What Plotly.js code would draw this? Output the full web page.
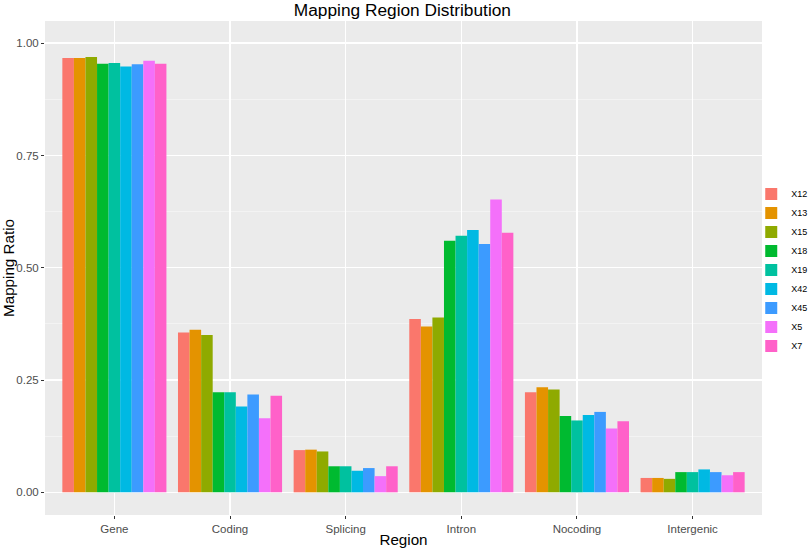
<!DOCTYPE html>
<html>
<head>
<meta charset="utf-8">
<script src="https://cdn.plot.ly/plotly-3.0.1.min.js"></script>
<style>
  html, body { margin: 0; padding: 0; background: #fff; }
  #chart { width: 809px; height: 548px; }
</style>
</head>
<body>
<div id="chart"></div>
<script>
// regions on the x axis
const regions = ['Gene', 'Coding', 'Splicing', 'Intron', 'Nocoding', 'Intergenic'];

// one array per sample, values in region order
const samples = ['X12', 'X13', 'X15', 'X18', 'X19', 'X42', 'X45', 'X5', 'X7'];
const x12 = [0.967, 0.356, 0.094, 0.386, 0.223, 0.032];
const x13 = [0.967, 0.362, 0.095, 0.369, 0.234, 0.032];
const x15 = [0.969, 0.350, 0.091, 0.389, 0.229, 0.030];
const x18 = [0.954, 0.223, 0.058, 0.560, 0.170, 0.045];
const x19 = [0.956, 0.223, 0.058, 0.571, 0.160, 0.045];
const x42 = [0.948, 0.191, 0.048, 0.584, 0.172, 0.051];
const x45 = [0.953, 0.218, 0.054, 0.553, 0.179, 0.045];
const x5  = [0.961, 0.165, 0.036, 0.652, 0.142, 0.038];
const x7  = [0.954, 0.215, 0.058, 0.578, 0.158, 0.045];
const sampleValues = [x12, x13, x15, x18, x19, x42, x45, x5, x7];

const colors = ['#FA776C', '#E49300', '#8FAA00', '#00BA30', '#00C19F', '#00B9E3', '#3C9BFF', '#F470FA', '#FF61C9'];

const font = 'Liberation Sans, Arial, sans-serif';

let traces = samples.map(function (name, i) {
  return {
    type: 'bar',
    name: name,
    x: regions,
    y: sampleValues[i],
    marker: { color: colors[i], line: { width: 0 } },
    hoverinfo: 'x+y+name'
  };
});

let layout = {
  width: 809,
  height: 548,
  margin: { l: 45, r: 47, t: 21, b: 33, autoexpand: false },
  paper_bgcolor: '#ffffff',
  plot_bgcolor: '#EBEBEB',
  barmode: 'group',
  bargap: 0.1,
  bargroupgap: 0,
  font: { family: font, color: '#000' },
  title: {
    text: 'Mapping Region Distribution',
    font: { size: 17.3, family: font, color: '#000' },
    x: 0.4985, xanchor: 'center', xref: 'paper',
    y: 0.981, yanchor: 'middle', yref: 'container'
  },
  xaxis: {
    type: 'category',
    categoryorder: 'array',
    categoryarray: regions,
    range: [-0.6, 5.6],
    showgrid: true,
    gridcolor: '#ffffff',
    gridwidth: 1.4,
    zeroline: false,
    showline: false,
    ticks: 'outside',
    ticklen: 3,
    tickwidth: 1,
    tickcolor: '#333333',
    tickfont: { size: 11.5, color: '#4D4D4D', family: font },
    title: { text: 'Region', font: { size: 15.2, color: '#000', family: font }, standoff: 3 },
    fixedrange: true
  },
  yaxis: {
    range: [-0.0505, 1.0494],
    tickvals: [0, 0.25, 0.5, 0.75, 1],
    ticktext: ['0.00', '0.25', '0.50', '0.75', '1.00'],
    showgrid: true,
    gridcolor: '#ffffff',
    gridwidth: 1.4,
    minor: { tickvals: [0.125, 0.375, 0.625, 0.875], showgrid: true, gridcolor: '#F7F7F7', gridwidth: 0.7, ticks: '' },
    zeroline: false,
    showline: false,
    ticks: 'outside',
    ticklen: 3,
    tickwidth: 1,
    tickcolor: '#333333',
    tickfont: { size: 11.5, color: '#4D4D4D', family: font },
    title: { text: 'Mapping Ratio', font: { size: 15.2, color: '#000', family: font }, standoff: 4 },
    fixedrange: true
  },
  legend: {
    x: 0.985, xanchor: 'left',
    y: 0.496, yanchor: 'middle',
    font: { size: 9, color: '#000', family: font },
    bgcolor: 'rgba(0,0,0,0)',
    tracegroupgap: 0,
    itemwidth: 30
  },
  showlegend: true
};

let config = { displayModeBar: false, staticPlot: true };

Plotly.newPlot('chart', traces, layout, config);
</script>
</body>
</html>
